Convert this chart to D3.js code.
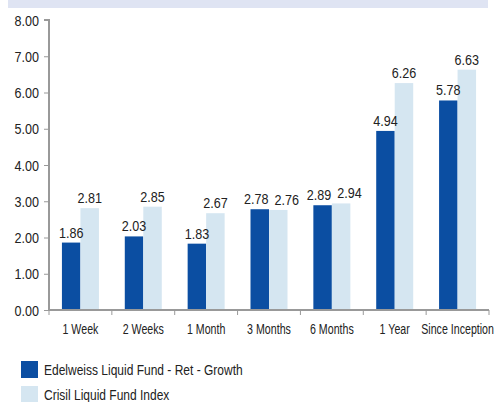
<!DOCTYPE html>
<html>
<head>
<meta charset="utf-8">
<script src="https://cdn.jsdelivr.net/npm/d3@7"></script>
<style>
body { margin: 0; background: #fff; }
svg text { font-family: "Liberation Sans", Arial, sans-serif; fill: #222; }
</style>
</head>
<body>
<svg id="chart" width="495" height="402"></svg>
<script>
var categories = ["1 Week", "2 Weeks", "1 Month", "3 Months", "6 Months", "1 Year", "Since Inception"];
var fundValues = [1.86, 2.03, 1.83, 2.78, 2.89, 4.94, 5.78];
var indexValues = [2.81, 2.85, 2.67, 2.76, 2.94, 6.26, 6.63];
var seriesNames = ["Edelweiss Liquid Fund - Ret - Growth", "Crisil Liquid Fund Index"];
var yTicks = [0, 1, 2, 3, 4, 5, 6, 7, 8];

var colors = ["#0b4ea2", "#d5e6f1"];

var svg = d3.select('#chart');

// header band, cut off at the top
svg.append('rect')
    .attr('x', 8).attr('y', 0)
    .attr('width', 480).attr('height', 8)
    .attr('fill', '#dfe4f3');

var mLeft = 49, mRight = 489, mTop = 20, mBottom = 310;
var GROUP_W = 37;

// the original uses a narrow face, so squeeze the text sideways
function narrow(sel, xf, yf, sq) {
    sel.attr('transform', function (d, i) {
        return 'translate(' + xf(d, i) + ',' + yf(d, i) + ') scale(' + sq + ',1)';
    });
}

var x = d3.scaleBand()
    .domain(categories)
    .range([mLeft, mRight]);

var x1 = d3.scaleBand()
    .domain([0, 1])
    .range([0, GROUP_W]);

var y = d3.scaleLinear()
    .domain([0, 8])
    .range([mBottom, mTop]);

var data = categories.map(function (c, i) {
    return { cat: c, vals: [fundValues[i], indexValues[i]] };
});

var groups = svg.selectAll('g.grp')
    .data(data)
    .enter()
    .append('g')
    .attr('class', 'grp')
    .attr('transform', function (d) {
        return 'translate(' + (x(d.cat) + (x.bandwidth() - GROUP_W) / 2) + ',0)';
    });

groups.selectAll('rect')
    .data(function (d) { return d.vals; })
    .enter()
    .append('rect')
    .attr('x', function (d, i) { return x1(i); })
    .attr('y', function (d) { return y(d); })
    .attr('width', x1.bandwidth())
    .attr('height', function (d) { return mBottom - y(d); })
    .attr('fill', function (d, i) { return colors[i]; });

groups.each(function () {
    var g = d3.select(this);
    var labels = g.selectAll('text.val')
        .data(function (d) { return d.vals; })
        .enter()
        .append('text')
        .attr('class', 'val')
        .attr('text-anchor', 'middle')
        .style('font-size', '15px')
        .text(function (d) { return d.toFixed(2); });

    // push the two labels apart when they collide, like the original does
    var shift = [0, 0];
    var nodes = labels.nodes();
    var w0 = nodes[0].getComputedTextLength() * 0.84;
    var w1 = nodes[1].getComputedTextLength() * 0.84;
    var v = g.datum().vals;
    var c0 = x1(0) + x1.bandwidth() / 2, c1 = x1(1) + x1.bandwidth() / 2;
    var overlap = (c0 + w0 / 2) - (c1 - w1 / 2) + 6;
    if (overlap > 0 && Math.abs(y(v[0]) - y(v[1])) < 14) {
        shift = [-overlap * 0.3, overlap * 0.7];
    }
    labels.call(narrow,
        function (d, i) { return x1(i) + x1.bandwidth() / 2 + shift[i]; },
        function (d) { return y(d) - 5; }, 0.84);
});

// y axis
var yAxis = d3.axisLeft(y)
    .tickValues(yTicks)
    .tickSize(5)
    .tickFormat(d3.format('.2f'));

var yg = svg.append('g')
    .attr('transform', 'translate(' + mLeft + ',0)')
    .call(yAxis);
yg.select('.domain').attr('stroke', '#999').attr('stroke-width', 2)
    .attr('d', 'M-5,' + mTop + 'H0V' + mBottom);
yg.selectAll('.tick line').attr('stroke', '#999');
yg.selectAll('.tick text')
    .style('font-size', '15px')
    .attr('x', null).attr('dy', null)
    .attr('transform', 'translate(-10,5) scale(0.84,1)')
    .attr('fill', '#222');

// x axis
var xg = svg.append('g')
    .attr('transform', 'translate(0,' + mBottom + ')');
xg.append('line')
    .attr('x1', mLeft).attr('x2', mRight)
    .attr('stroke', '#999').attr('stroke-width', 2);
xg.selectAll('line.tk')
    .data(categories.map(function (d) { return x(d); }).concat([mRight]))
    .enter()
    .append('line')
    .attr('class', 'tk')
    .attr('x1', function (d) { return d; })
    .attr('x2', function (d) { return d; })
    .attr('y1', 0).attr('y2', 5)
    .attr('stroke', '#999');
xg.selectAll('text')
    .data(categories)
    .enter()
    .append('text')
    .attr('text-anchor', 'middle')
    .style('font-size', '15px')
    .call(narrow,
        function (d) { return x(d) + x.bandwidth() / 2; },
        function () { return 24; }, 0.71)
    .text(function (d) { return d; });

// legend
var legend = svg.selectAll('g.leg')
    .data(seriesNames)
    .enter()
    .append('g')
    .attr('class', 'leg')
    .attr('transform', function (d, i) { return 'translate(21,' + (361 + i * 25) + ')'; });
legend.append('rect')
    .attr('width', 17).attr('height', 17)
    .attr('fill', function (d, i) { return colors[i]; });
legend.append('text')
    .style('font-size', '15px')
    .call(narrow, function () { return 23; }, function () { return 14; }, 0.8)
    .text(function (d) { return d; });
</script>
</body>
</html>
